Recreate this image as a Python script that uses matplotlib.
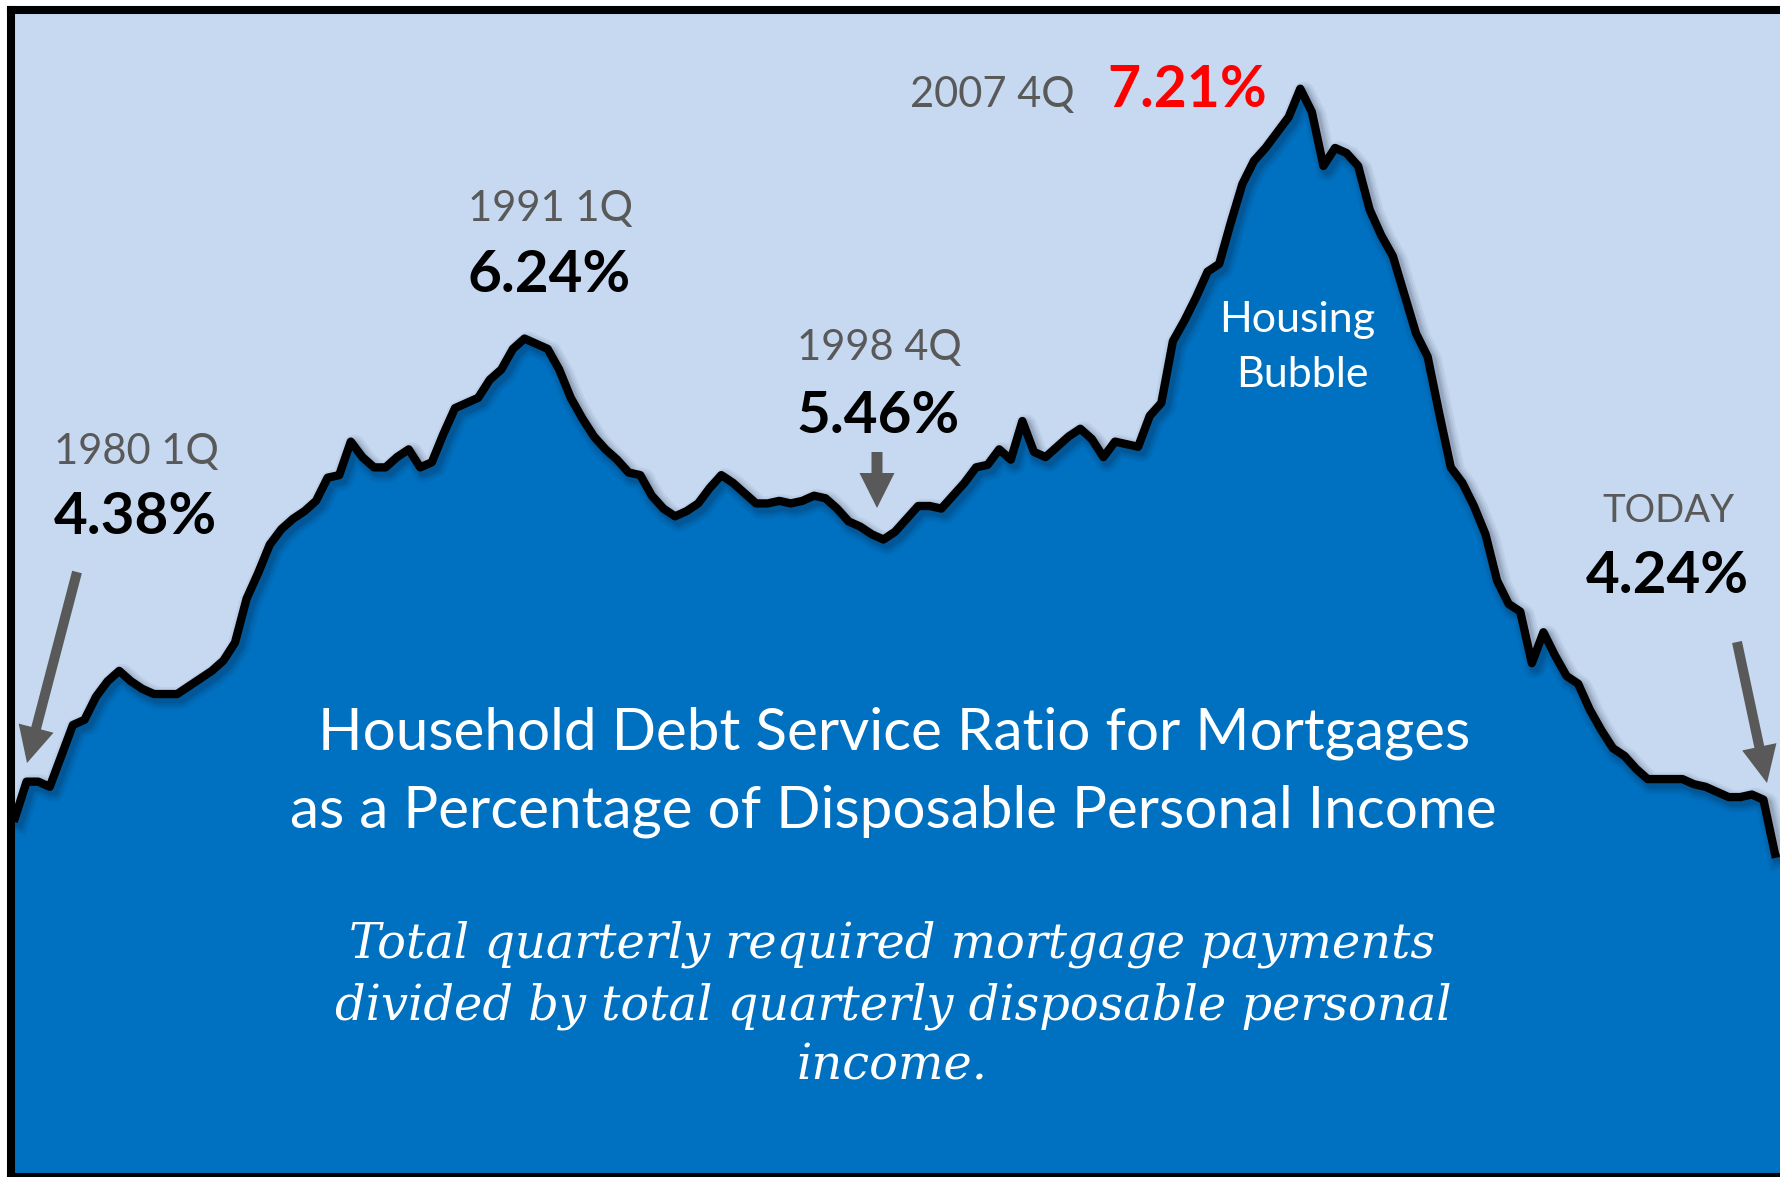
import matplotlib
matplotlib.use("Agg")
import matplotlib.pyplot as plt
import matplotlib.patheffects as pe
from matplotlib.patches import FancyArrow
import numpy as np
import pandas as pd

# Household debt service ratio for mortgages (% of disposable personal income), quarterly from 1980Q1
dsr = [
    4.38, 4.52, 4.52, 4.50, 4.62, 4.74, 4.76, 4.85, 4.91, 4.95,
    4.91, 4.88, 4.86, 4.86, 4.86, 4.89, 4.92, 4.95, 4.99, 5.06,
    5.23, 5.33, 5.44, 5.50, 5.54, 5.57, 5.61, 5.70, 5.71, 5.84,
    5.78, 5.74, 5.74, 5.78, 5.81, 5.74, 5.76, 5.87, 5.97, 5.99,
    6.01, 6.08, 6.12, 6.20, 6.24, 6.22, 6.20, 6.12, 6.01, 5.93,
    5.86, 5.81, 5.77, 5.72, 5.71, 5.63, 5.58, 5.55, 5.57, 5.60,
    5.66, 5.71, 5.68, 5.64, 5.60, 5.60, 5.61, 5.60, 5.61, 5.63,
    5.62, 5.58, 5.53, 5.51, 5.48, 5.46, 5.49, 5.54, 5.59, 5.59,
    5.58, 5.63, 5.68, 5.74, 5.75, 5.81, 5.77, 5.92, 5.80, 5.78,
    5.82, 5.86, 5.89, 5.85, 5.78, 5.84, 5.83, 5.82, 5.94, 5.99,
    6.23, 6.31, 6.40, 6.50, 6.53, 6.69, 6.84, 6.93, 6.98, 7.04,
    7.10, 7.21, 7.12, 6.91, 6.98, 6.96, 6.91, 6.74, 6.64, 6.56,
    6.41, 6.26, 6.17, 5.95, 5.74, 5.68, 5.59, 5.48, 5.30, 5.21,
    5.18, 4.98, 5.10, 5.01, 4.93, 4.90, 4.80, 4.72, 4.65, 4.62,
    4.57, 4.53, 4.53, 4.53, 4.53, 4.51, 4.50, 4.48, 4.46, 4.46,
    4.47, 4.45, 4.24,
]
quarters = pd.period_range("1980Q1", periods=len(dsr), freq="Q")

callout_years = ["1980 1Q", "1991 1Q", "1998 4Q", "2007 4Q", "TODAY"]
callout_values = ["4.38%", "6.24%", "5.46%", "7.21%", "4.24%"]

W, H, DPI = 1781, 1177, 100
BG = "#C6D9F1"
FILL = "#0070C0"
GREY = "#595959"
SANS = ["Lato", "DejaVu Sans"]

fig = plt.figure(figsize=(W / DPI, H / DPI), dpi=DPI, facecolor="white")

# axes box in pixel units (left, top, right, bottom), measured from the top-left corner
L, T, R, B = 11, 10, 1781, 1177
ax = fig.add_axes([L / W, 1 - B / H, (R - L) / W, (B - T) / H])
ax.set_facecolor(BG)

x = np.arange(len(dsr))
x0_px, x1_px = 15, 1775           # pixel columns of the first and last quarter
step = (x1_px - x0_px) / (len(dsr) - 1)
ppu = 257.6                       # pixels per percentage point
v_top, y_top_px = 7.5, 14
ax.set_xlim(-(x0_px - L) / step, (R - x0_px) / step)
ax.set_ylim(v_top - (B - y_top_px) / ppu, v_top + (y_top_px - T) / ppu)

# extend the filled area flat to the right edge of the frame
fx = np.append(x, x[-1] + 2)
fy = np.append(dsr, dsr[-1])
ax.fill_between(fx, fy, 0, color=FILL, lw=0, zorder=2)

shadow = [pe.SimpleLineShadow(offset=(2.5, -3), shadow_color="#101830", alpha=a, linewidth=w)
          for w, a in [(16, 0.05), (13, 0.06), (10, 0.08), (7.5, 0.10)]]
ax.plot(x, dsr, color="black", lw=6.0, solid_joinstyle="round", solid_capstyle="projecting",
        zorder=3, path_effects=shadow + [pe.Normal()])

for side in ("left", "top", "bottom"):
    ax.spines[side].set_linewidth(5.8)
    ax.spines[side].set_color("black")
    ax.spines[side].set_zorder(5)
ax.spines["right"].set_visible(False)
ax.set_xticks([])
ax.set_yticks([])


def put(xp, yp, s, **kw):
    fig.text(xp / W, 1 - yp / H, s, ha="center", va="baseline", **kw)


label_pos = [(136, 464), (550, 221), (879, 360), (992, 107), (1668, 522)]
label_size = [30, 30, 30, 30, 27.5]
value_pos = [(135, 534), (549, 292), (878, 433), (1187, 107), (1667, 593)]
for (xp, yp), s, fs in zip(label_pos, callout_years, label_size):
    put(xp, yp, s, color=GREY, fontsize=fs, family=SANS)
for i, ((xp, yp), s) in enumerate(zip(value_pos, callout_values)):
    put(xp, yp, s, color="red" if i == 3 else "black", fontsize=42 if i != 3 else 41,
        fontweight="bold", family=SANS)

put(1297, 332, "Housing", color="white", fontsize=31, family=SANS)
put(1302, 387, "Bubble", color="white", fontsize=31, family=SANS)

put(894, 750, "Household Debt Service Ratio for Mortgages", color="white",
    fontsize=42, family=SANS)
put(893, 827, "as a Percentage of Disposable Personal Income", color="white",
    fontsize=42, family=SANS)

serif = dict(color="white", fontsize=34.5, family="DejaVu Serif", style="italic")
put(892, 958, "Total quarterly required mortgage payments", **serif)
put(893, 1020, "divided by total quarterly disposable personal", **serif)
put(892, 1080, "income.", **serif)


def arrow(tail, tip, shaft, head_w, head_l):
    (x1, y1), (x2, y2) = tail, tip
    a = FancyArrow(x1 / DPI, (H - y1) / DPI, (x2 - x1) / DPI, -(y2 - y1) / DPI,
                   width=shaft / DPI, head_width=head_w / DPI, head_length=head_l / DPI,
                   length_includes_head=True, color=GREY, lw=0,
                   transform=fig.dpi_scale_trans, zorder=10)
    fig.add_artist(a)


arrow((77, 572), (27, 763), 10, 36, 36)
arrow((877, 452), (877, 508), 11, 35, 35)
arrow((1737, 642), (1767, 783), 10, 35, 37)

fig.savefig("out.png", dpi=DPI, facecolor="white")
